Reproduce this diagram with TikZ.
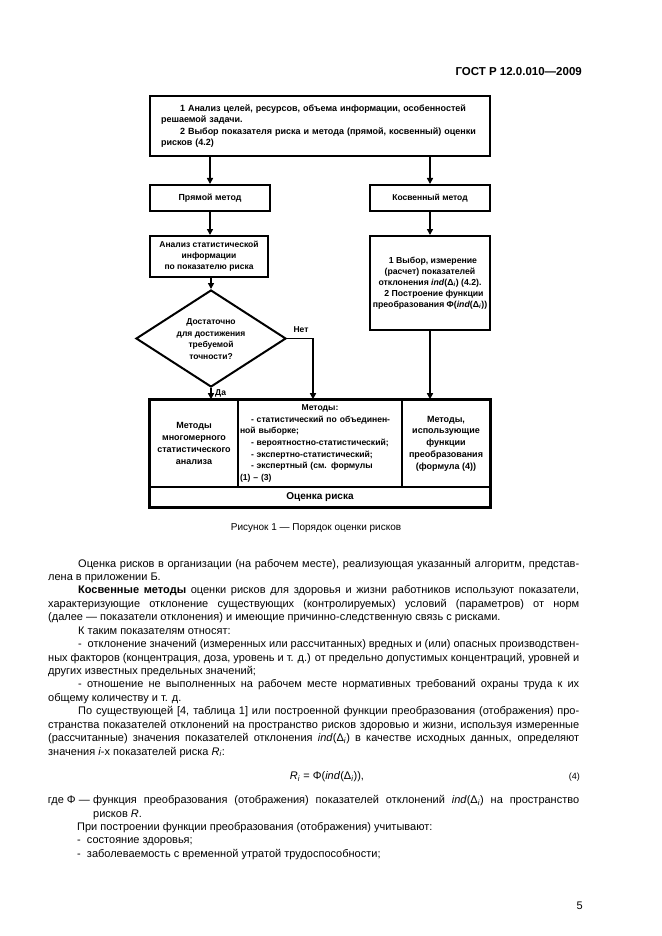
\documentclass[tikz,border=0pt]{standalone}
\usepackage{fontspec}
\setmainfont{Liberation Sans}
\usetikzlibrary{arrows.meta,shapes.geometric}
\tikzset{
  box/.style={draw, line width=2pt, inner sep=1pt, align=center,
    font=\fontsize{8.5}{11.2}\selectfont\bfseries},
  cell/.style={draw, line width=1.6pt, inner sep=1pt, align=center,
    font=\fontsize{9}{11.8}\selectfont\bfseries},
  arr/.style={line width=1.8pt, -{Triangle[width=6pt,length=6pt]}},
  lbl/.style={inner sep=0pt, font=\fontsize{8.5}{10}\selectfont\bfseries},
  txt/.style={anchor=base west, inner sep=0pt, font=\fontsize{11}{13.4}\selectfont},
}
\newcommand\gostfull[3]{\node[txt] (#1) at (48,#2) {\makebox[531pt][s]{#3}};}
\newcommand\gostind[3]{\node[txt] (#1) at (78,#2) {\makebox[501pt][s]{#3}};}
\begin{document}
\begin{tikzpicture}[x=1pt,y=-1pt]
\useasboundingbox (0,0) rectangle (661,936);
\fill[white] (0,0) rectangle (661,936);

% header
\node[anchor=base east, inner sep=0pt, font=\fontsize{11.5}{14}\selectfont\bfseries] (hdr) at (582,76) {ГОСТ Р 12.0.010—2009};

% flowchart
\node[box, line width=2.4pt, minimum width=340pt, minimum height=60pt, text width=318pt, align=left,
  font=\fontsize{9}{11.3}\selectfont\bfseries] (b1) at (320,126)
  {\hspace*{19pt}1 Анализ целей, ресурсов, объема информации, особенностей\\
   решаемой задачи.\\
   \hspace*{19pt}2 Выбор показателя риска и метода (прямой, косвенный) оценки\\
   рисков (4.2)};

\node[box, minimum width=120pt, minimum height=26pt, font=\fontsize{8.8}{11}\selectfont\bfseries] (direct) at (210,198) {Прямой метод};
\node[box, minimum width=120pt, minimum height=26pt] (indirect) at (430,198) {Косвенный метод};

\node[box, minimum width=118pt, minimum height=41pt] (anal) at (209,256.5)
  {Анализ статистической\\информации\\по показателю риска};

\node[draw, diamond, line width=2pt, minimum width=150pt, minimum height=97pt, inner sep=0pt] (dia) at (211,338.5) {};
\node[align=center, inner sep=0pt, font=\fontsize{8.5}{11.7}\selectfont\bfseries] (diat) at (211,339)
  {Достаточно\\для достижения\\требуемой\\точности?};

\node[box, minimum width=120pt, minimum height=94pt, inner sep=0pt, font=\fontsize{8.7}{11}\selectfont\bfseries] (r1) at (430,283)
  {\hspace*{6pt}1 Выбор, измерение\\(расчет) показателей\\отклонения \textit{ind}(Δ\textsubscript{\textit{i}}) (4.2).\\
   \hspace*{8pt}2 Построение функции\\преобразования Φ(\textit{ind}(Δ\textsubscript{\textit{i}}))};

\node[cell, minimum width=88pt, minimum height=87pt] (c1) at (194,443.5)
  {Методы\\многомерного\\статистического\\анализа};
\node[cell, minimum width=164pt, minimum height=87pt, text width=160pt, align=left,
  font=\fontsize{8.6}{11.6}\selectfont\bfseries] (c2) at (320,443.5)
  {\makebox[160pt]{Методы:}\\
   \hspace*{11pt}- статистический по объединен-\\
   ной выборке;\\
   \hspace*{11pt}- вероятностно-статистический;\\
   \hspace*{11pt}- экспертно-статистический;\\
   \hspace*{11pt}- экспертный (см. формулы\\
   (1) – (3)};
\node[cell, minimum width=88pt, minimum height=87pt] (c3) at (446,443.5)
  {Методы,\\использующие\\функции\\преобразования\\(формула (4))};
\node[cell, minimum width=340pt, minimum height=20pt, font=\fontsize{10}{12}\selectfont\bfseries] (c4) at (320,497) {Оценка риска};
\draw[line width=2.4pt] (c1.north west) rectangle (c4.south east);

% connectors
\draw[arr] (b1.south -| direct.north) -- (direct.north);
\draw[arr] (b1.south -| indirect.north) -- (indirect.north);
\draw[arr] (direct.south) -- (direct.south |- anal.north);
\draw[arr] (anal.south -| dia.north) -- (dia.north);
\draw[arr] (dia.south) -- (dia.south |- c1.north);
\coordinate (netc) at (313,338.5);
\draw[arr] (dia.east) -- (netc) -- (netc |- c2.north);
\draw[arr] (indirect.south) -- (r1.north);
\draw[arr] (r1.south) -- (r1.south |- c3.north);
\node[lbl, anchor=south] (net) at (301,333) {Нет};
\node[lbl, anchor=west] (da) at (215,393) {Да};

% caption
\node[anchor=base, inner sep=0pt, font=\fontsize{10}{12}\selectfont] (cap) at (316,530) {Рисунок 1 — Порядок оценки рисков};

% body text
\gostind{t0}{567}{Оценка рисков в организации (на рабочем месте), реализующая указанный алгоритм, представ-}
\node[txt] (t1) at (48,580.4) {лена в приложении Б.};
\gostind{t2}{593.9}{\textbf{Косвенные методы} оценки рисков для здоровья и жизни работников используют показатели,}
\gostfull{t3}{607.3}{характеризующие отклонение существующих (контролируемых) условий (параметров) от норм}
\node[txt] (t4) at (48,620.7) {(далее — показатели отклонения) и имеющие причинно-следственную связь с рисками.};
\node[txt] (t5) at (78,634.2) {К таким показателям относят:};
\gostind{t6}{647.6}{- \ отклонение значений (измеренных или рассчитанных) вредных и (или) опасных производствен-}
\gostfull{t7}{661}{ных факторов (концентрация, доза, уровень и т. д.) от предельно допустимых концентраций, уровней и}
\node[txt] (t8) at (48,674.4) {других известных предельных значений;};
\gostind{t9}{687.9}{- отношение не выполненных на рабочем месте нормативных требований охраны труда к их}
\node[txt] (t10) at (48,701.3) {общему количеству и т. д.};
\gostind{t11}{714.7}{По существующей [4, таблица 1] или построенной функции преобразования (отображения) про-}
\gostfull{t12}{728.2}{странства показателей отклонений на пространство рисков здоровью и жизни, используя измеренные}
\gostfull{t13}{741.6}{(рассчитанные) значения показателей отклонения \textit{ind}(Δ\textsubscript{\textit{i}}) в качестве исходных данных, определяют}
\node[txt] (t14) at (48,755) {значения \textit{i}-х показателей риска \textit{R\textsubscript{i}}:};

\node[anchor=base, inner sep=0pt, font=\fontsize{11}{13.4}\selectfont] (eq) at (327,779.5)
  {\textit{R}\textsubscript{\textit{i}} = Φ(\textit{ind}(Δ\textsubscript{\textit{i}})),};
\node[anchor=base east, inner sep=0pt, font=\fontsize{9}{11}\selectfont] (eqn) at (580,779.5) {(4)};

\node[txt, anchor=base east] (t15) at (90,803.5) {где Φ —};
\node[txt] (t16) at (93,803.5) {\makebox[486pt][s]{функция преобразования (отображения) показателей отклонений \textit{ind}(Δ\textsubscript{\textit{i}}) на пространство}};
\node[txt] (t17) at (93,817) {рисков \textit{R}.};
\node[txt] (t18) at (77,830.4) {При построении функции преобразования (отображения) учитывают:};
\node[txt] (t19) at (77,843.8) {- \ состояние здоровья;};
\node[txt] (t20) at (77,857.2) {- \ заболеваемость с временной утратой трудоспособности;};

\node[anchor=base east, inner sep=0pt, font=\fontsize{11}{13.4}\selectfont] (pn) at (583,909) {5};
\end{tikzpicture}
\end{document}
